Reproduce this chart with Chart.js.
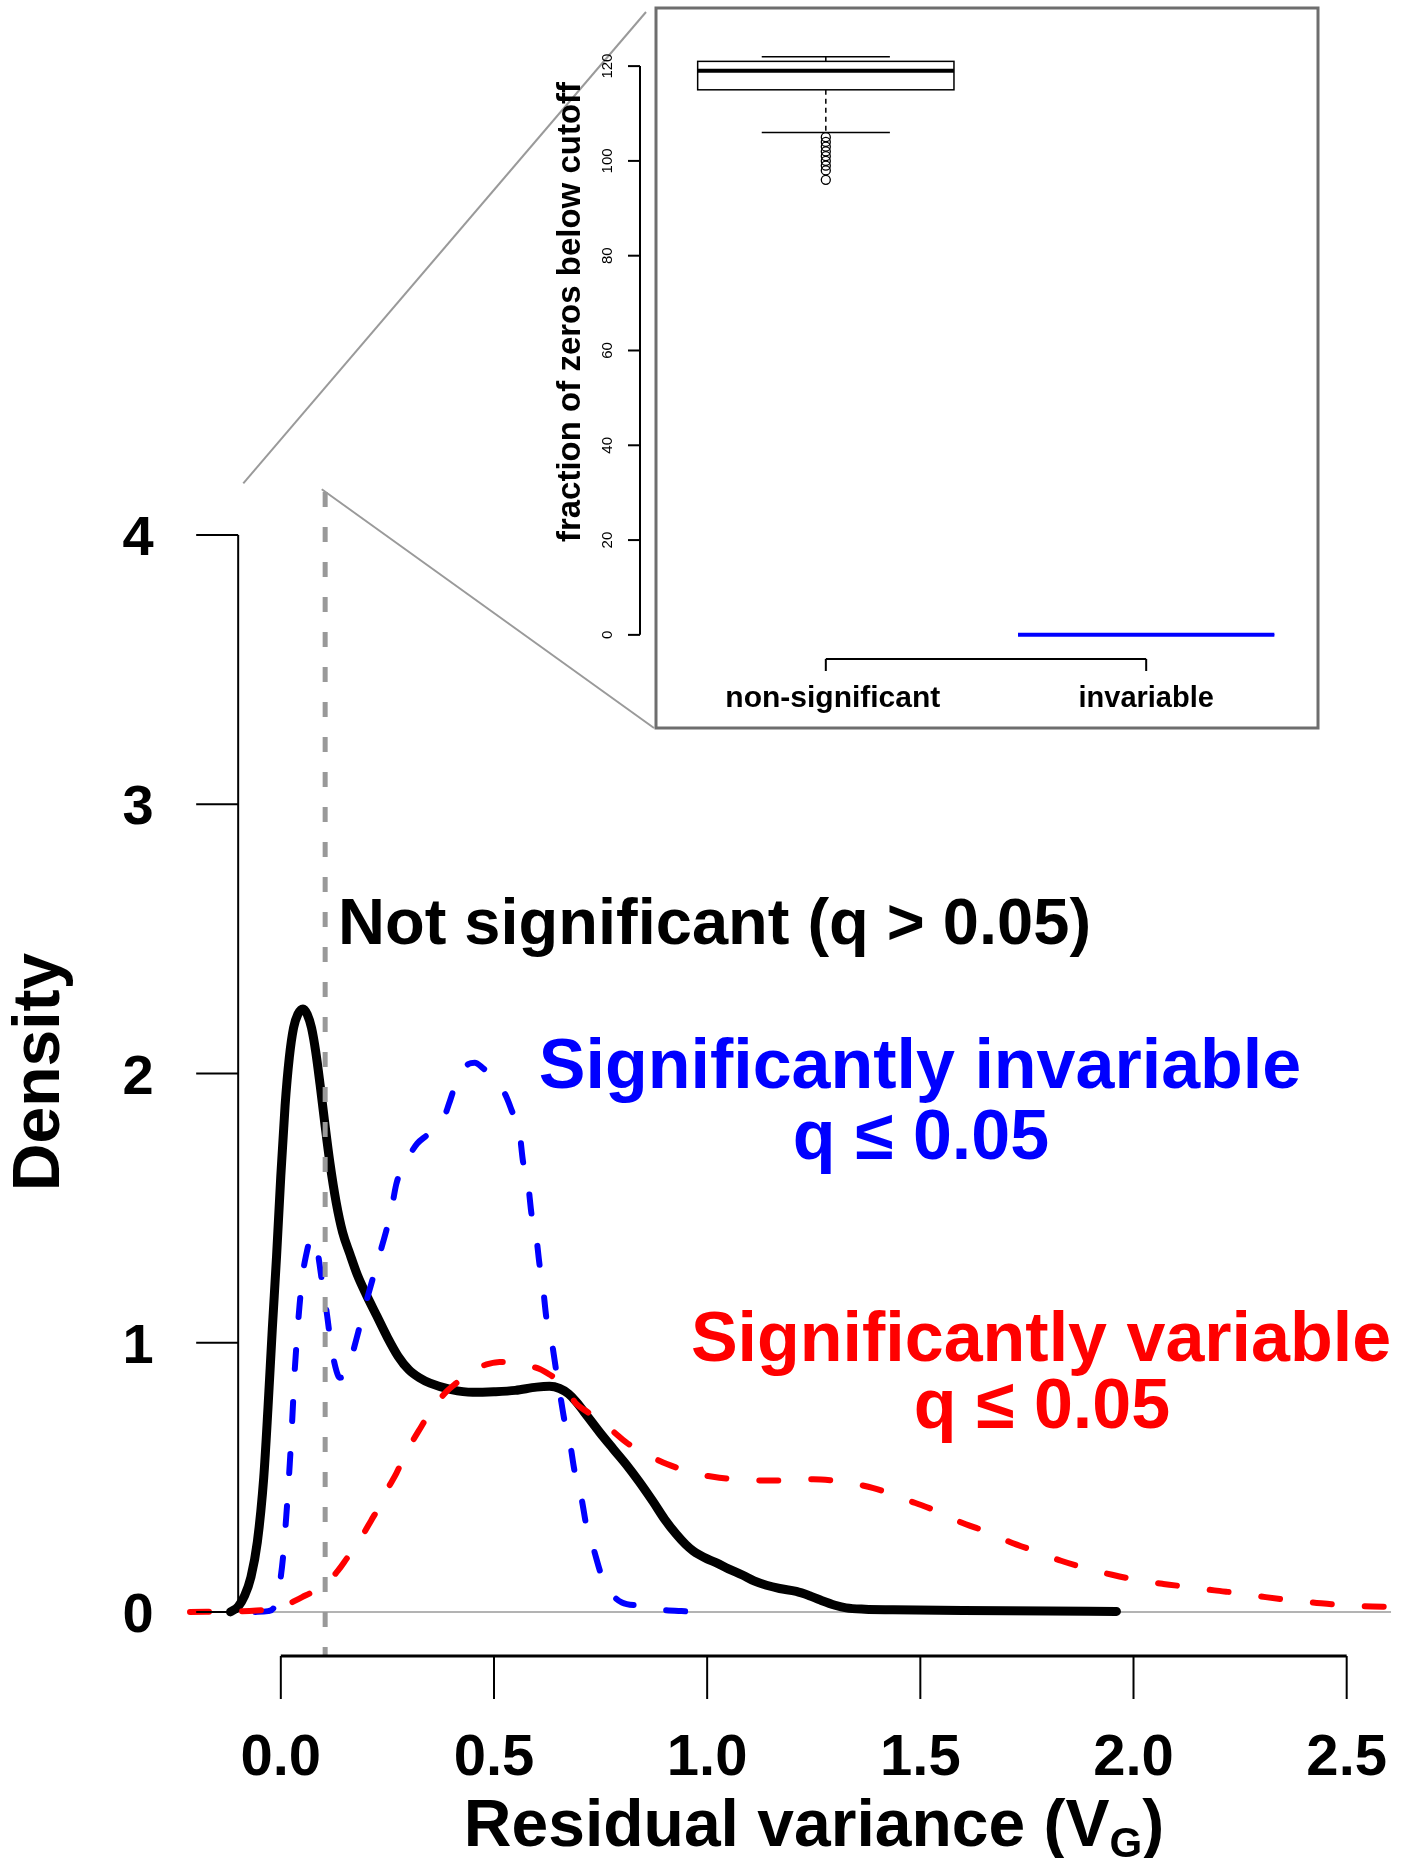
<!DOCTYPE html>
<html>
<head>
<meta charset="utf-8">
<script src="https://cdn.jsdelivr.net/npm/chart.js@4.4.1/dist/chart.umd.min.js"></script>
<style>
  html, body { margin: 0; padding: 0; background: #fff; }
  #wrap { position: relative; width: 1423px; height: 1858px; }
  #wrap canvas { position: absolute; left: 0; top: 0; }
</style>
</head>
<body>
<div id="wrap">
  <canvas id="main" width="1423" height="1858"></canvas>
  <canvas id="inset" width="1423" height="1858"></canvas>
</div>
<script>
const FONT = '"Liberation Sans", Arial, Helvetica, sans-serif';

// Density curves (x = residual variance, y = density)
const nsX = [-0.118, -0.10, -0.085, -0.07, -0.055, -0.04, -0.03, -0.02, -0.01, 0.0, 0.01, 0.02, 0.03, 0.04, 0.052,
  0.062, 0.072, 0.082, 0.092, 0.102, 0.115, 0.13, 0.145, 0.162, 0.18, 0.2, 0.225, 0.25, 0.275, 0.3, 0.325, 0.35,
  0.4, 0.45, 0.5, 0.55, 0.6, 0.63, 0.654, 0.675, 0.693, 0.72, 0.748, 0.78, 0.811, 0.84, 0.873, 0.9, 0.928, 0.95,
  0.967, 1.0, 1.022, 1.05, 1.084, 1.11, 1.139, 1.17, 1.209, 1.24, 1.264, 1.3, 1.326, 1.37, 1.436, 1.6, 1.8, 1.96];
const nsY = [0, 0.02, 0.06, 0.13, 0.26, 0.5, 0.76, 1.05, 1.32, 1.62, 1.88, 2.06, 2.17, 2.22, 2.24,
  2.22, 2.17, 2.08, 1.96, 1.83, 1.67, 1.52, 1.41, 1.33, 1.25, 1.18, 1.10, 1.02, 0.95, 0.90, 0.87, 0.85,
  0.826, 0.816, 0.818, 0.823, 0.835, 0.838, 0.83, 0.81, 0.78, 0.725, 0.667, 0.605, 0.546, 0.485, 0.41, 0.345, 0.288, 0.25,
  0.227, 0.197, 0.182, 0.16, 0.136, 0.115, 0.099, 0.087, 0.076, 0.06, 0.045, 0.025, 0.015, 0.01, 0.008, 0.005, 0.003, 0.002];

const invX = [-0.06, -0.03, -0.015, -0.005, 0.005, 0.013, 0.021, 0.027, 0.032, 0.038, 0.044, 0.052, 0.06, 0.068, 0.076,
  0.084, 0.091, 0.099, 0.107, 0.118, 0.128, 0.138, 0.15, 0.162, 0.175, 0.185, 0.2, 0.216, 0.232, 0.248, 0.26, 0.271,
  0.285, 0.303, 0.32, 0.342, 0.362, 0.381, 0.395, 0.412, 0.425, 0.44, 0.455, 0.474, 0.495, 0.513, 0.53, 0.541, 0.56,
  0.568, 0.58, 0.588, 0.599, 0.607, 0.615, 0.623, 0.635, 0.646, 0.654, 0.666, 0.678, 0.689, 0.705, 0.717, 0.732,
  0.752, 0.766, 0.779, 0.8, 0.842, 0.893, 0.94, 0.99];
const invY = [0, 0.003, 0.02, 0.08, 0.2, 0.36, 0.55, 0.72, 0.88, 1.02, 1.14, 1.26, 1.33, 1.38, 1.39,
  1.36, 1.29, 1.2, 1.12, 0.99, 0.91, 0.87, 0.88, 0.925, 1.0, 1.06, 1.15, 1.24, 1.33, 1.42, 1.50, 1.59,
  1.65, 1.70, 1.74, 1.77, 1.80, 1.83, 1.89, 1.97, 2.01, 2.035, 2.04, 2.02, 1.99, 1.96, 1.91, 1.865, 1.78,
  1.674, 1.59, 1.478, 1.395, 1.288, 1.205, 1.091, 1.008, 0.895, 0.819, 0.705, 0.63, 0.523, 0.424, 0.318, 0.243,
  0.136, 0.09, 0.061, 0.035, 0.023, 0.008, 0.003, 0.001];

const varX = [-0.213, -0.1, -0.057, -0.02, 0.0, 0.029, 0.05, 0.076, 0.095, 0.115, 0.135, 0.154, 0.175, 0.193, 0.212,
  0.232, 0.25, 0.271, 0.29, 0.31, 0.33, 0.35, 0.37, 0.389, 0.41, 0.428, 0.45, 0.467, 0.49, 0.513, 0.535, 0.552,
  0.58, 0.607, 0.63, 0.654, 0.675, 0.693, 0.72, 0.748, 0.78, 0.811, 0.85, 0.889, 0.93, 0.967, 1.01, 1.061, 1.11,
  1.155, 1.2, 1.249, 1.3, 1.342, 1.39, 1.428, 1.47, 1.514, 1.545, 1.592, 1.655, 1.71, 1.772, 1.83, 1.889, 1.95,
  2.007, 2.07, 2.132, 2.19, 2.253, 2.31, 2.374, 2.44, 2.499, 2.56, 2.624, 2.66];
const varY = [0, 0.002, 0.005, 0.01, 0.015, 0.038, 0.055, 0.076, 0.097, 0.12, 0.155, 0.197, 0.245, 0.288, 0.34,
  0.394, 0.455, 0.515, 0.578, 0.637, 0.69, 0.743, 0.785, 0.819, 0.848, 0.872, 0.893, 0.91, 0.922, 0.928, 0.928, 0.925,
  0.915, 0.902, 0.882, 0.856, 0.815, 0.773, 0.742, 0.712, 0.67, 0.629, 0.592, 0.561, 0.535, 0.515, 0.503, 0.493, 0.489,
  0.488, 0.49, 0.493, 0.487, 0.477, 0.46, 0.44, 0.415, 0.39, 0.37, 0.335, 0.298, 0.26, 0.224, 0.19, 0.162, 0.138,
  0.119, 0.104, 0.092, 0.08, 0.069, 0.055, 0.042, 0.032, 0.024, 0.02, 0.018, 0.016];

const cutoff = 0.104;
const xTicks = [0, 0.5, 1, 1.5, 2, 2.5];
const xTickLabels = ['0.0', '0.5', '1.0', '1.5', '2.0', '2.5'];
const yTicks = [0, 1, 2, 3, 4];
const yTickLabels = ['0', '1', '2', '3', '4'];

// Inset boxplot
const boxLabels = ['non-significant', 'invariable'];
const boxLow = [106, 0];
const boxQ1 = [115, 0];
const boxMed = [119, 0];
const boxQ3 = [121, 0];
const boxHigh = [122, 0];
const boxColors = ['#000000', '#0000ff'];
const outliers = [105, 104, 103, 102, 101, 100, 99, 98, 96];
const insetTicks = [0, 20, 40, 60, 80, 100, 120];

function pts(xs, ys) {
    return xs.map((x, i) => ({ x: x, y: ys[i] }));
}

function line(ctx, x1, y1, x2, y2) {
    ctx.beginPath();
    ctx.moveTo(x1, y1);
    ctx.lineTo(x2, y2);
    ctx.stroke();
}

const INSET_BOX = { left: 656, top: 8, right: 1318, bottom: 728 };

const mainDecor = {
    id: 'mainDecor',
    beforeDatasetsDraw(chart) {
        const { ctx } = chart;
        const x = chart.scales.x, y = chart.scales.y;
        ctx.save();
        ctx.strokeStyle = '#b3b3b3';
        ctx.lineWidth = 2;
        line(ctx, x.getPixelForValue(-0.213), y.getPixelForValue(0), x.getPixelForValue(2.604), y.getPixelForValue(0));
        ctx.restore();
    },
    afterDatasetsDraw(chart) {
        const { ctx, chartArea } = chart;
        const x = chart.scales.x, y = chart.scales.y;
        ctx.save();

        // cutoff line
        ctx.strokeStyle = '#999999';
        ctx.lineWidth = 5;
        ctx.setLineDash([15, 20]);
        line(ctx, x.getPixelForValue(cutoff), chartArea.top, x.getPixelForValue(cutoff), chartArea.bottom);
        ctx.setLineDash([]);

        // zoom connectors to the inset
        ctx.strokeStyle = '#9a9a9a';
        ctx.lineWidth = 2;
        line(ctx, x.getPixelForValue(-0.088), y.getPixelForValue(4.192), INSET_BOX.left - 10, INSET_BOX.top + 4);
        line(ctx, x.getPixelForValue(0.096), y.getPixelForValue(4.17), INSET_BOX.left - 2, INSET_BOX.bottom);

        // y axis (drawn at x = -0.1)
        ctx.strokeStyle = '#000';
        ctx.lineWidth = 2;
        const ax = x.getPixelForValue(-0.1);
        line(ctx, ax, y.getPixelForValue(0), ax, y.getPixelForValue(4));
        ctx.fillStyle = '#000';
        ctx.font = 'bold 56px ' + FONT;
        ctx.textAlign = 'center';
        ctx.textBaseline = 'alphabetic';
        yTicks.forEach((v, i) => {
            const py = y.getPixelForValue(v);
            line(ctx, ax - 42, py, ax, py);
            ctx.fillText(yTickLabels[i], ax - 100, py + 20);
        });

        // x axis at bottom of plot region
        const by = chartArea.bottom + 1;
        ctx.lineWidth = 3;
        line(ctx, x.getPixelForValue(0), by, x.getPixelForValue(2.5), by);
        ctx.lineWidth = 2;
        ctx.font = 'bold 58px ' + FONT;
        xTicks.forEach((v, i) => {
            const px = x.getPixelForValue(v);
            line(ctx, px, by, px, by + 43);
            ctx.fillText(xTickLabels[i], px, by + 119);
        });

        // axis titles
        ctx.font = 'bold 66px ' + FONT;
        const t1 = 'Residual variance (V';
        const w1 = ctx.measureText(t1).width;
        ctx.font = 'bold 42px ' + FONT;
        const wG = ctx.measureText('G').width;
        ctx.font = 'bold 66px ' + FONT;
        const wP = ctx.measureText(')').width;
        let tx = 814 - (w1 + wG + wP) / 2;
        ctx.textAlign = 'left';
        ctx.fillText(t1, tx, 1846);
        ctx.font = 'bold 42px ' + FONT;
        ctx.fillText('G', tx + w1, 1857);
        ctx.font = 'bold 66px ' + FONT;
        ctx.fillText(')', tx + w1 + wG, 1846);

        ctx.save();
        ctx.translate(59, 1072);
        ctx.rotate(-Math.PI / 2);
        ctx.textAlign = 'center';
        ctx.fillText('Density', 0, 0);
        ctx.restore();

        // annotations
        ctx.textAlign = 'left';
        ctx.font = 'bold 65px ' + FONT;
        ctx.fillStyle = '#000';
        ctx.fillText('Not significant (q > 0.05)', 338, 944);

        ctx.textAlign = 'center';
        ctx.font = 'bold 70px ' + FONT;
        ctx.fillStyle = '#0000ff';
        ctx.fillText('Significantly invariable', 920, 1088);
        ctx.fillText('q \u2264 0.05', 921, 1159);
        ctx.fillStyle = '#ff0000';
        ctx.fillText('Significantly variable', 1041, 1361);
        ctx.fillText('q \u2264 0.05', 1042, 1428);

        ctx.restore();
    }
};

const insetDecor = {
    id: 'insetDecor',
    beforeDatasetsDraw(chart) {
        const { ctx, chartArea } = chart;
        const x = chart.scales.x, y = chart.scales.y;
        ctx.save();

        ctx.strokeStyle = '#6e6e6e';
        ctx.lineWidth = 3;
        ctx.strokeRect(INSET_BOX.left, INSET_BOX.top, INSET_BOX.right - INSET_BOX.left, INSET_BOX.bottom - INSET_BOX.top);

        // y axis
        ctx.strokeStyle = '#000';
        ctx.fillStyle = '#000';
        ctx.lineWidth = 2;
        const ax = chartArea.left;
        line(ctx, ax, y.getPixelForValue(0), ax, y.getPixelForValue(120));
        ctx.font = '15px ' + FONT;
        ctx.textAlign = 'center';
        ctx.textBaseline = 'alphabetic';
        insetTicks.forEach(v => {
            const py = y.getPixelForValue(v);
            line(ctx, ax - 12, py, ax, py);
            ctx.save();
            ctx.translate(ax - 28, py);
            ctx.rotate(-Math.PI / 2);
            ctx.fillText(String(v), 0, 0);
            ctx.restore();
        });
        ctx.save();
        ctx.translate(580, 312);
        ctx.rotate(-Math.PI / 2);
        ctx.font = 'bold 33px ' + FONT;
        ctx.fillText('fraction of zeros below cutoff', 0, 0);
        ctx.restore();

        // x axis
        const by = chartArea.bottom + 1;
        line(ctx, x.getPixelForValue(1), by, x.getPixelForValue(2), by);
        const labelFont = [30, 29];
        const labelShift = [7, 0];
        boxLabels.forEach((lab, i) => {
            const px = x.getPixelForValue(i + 1);
            line(ctx, px, by, px, by + 12);
            ctx.font = 'bold ' + labelFont[i] + 'px ' + FONT;
            ctx.fillText(lab, px + labelShift[i], 707);
        });

        // boxes
        boxLabels.forEach((lab, i) => {
            const c = i + 1;
            const l = x.getPixelForValue(c - 0.4), r = x.getPixelForValue(c + 0.4);
            const sl = x.getPixelForValue(c - 0.2), sr = x.getPixelForValue(c + 0.2);
            const cx = x.getPixelForValue(c);
            ctx.strokeStyle = boxColors[i];
            ctx.lineWidth = 1.5;
            ctx.setLineDash([5, 4]);
            line(ctx, cx, y.getPixelForValue(boxQ3[i]), cx, y.getPixelForValue(boxHigh[i]));
            line(ctx, cx, y.getPixelForValue(boxQ1[i]), cx, y.getPixelForValue(boxLow[i]));
            ctx.setLineDash([]);
            line(ctx, sl, y.getPixelForValue(boxHigh[i]), sr, y.getPixelForValue(boxHigh[i]));
            line(ctx, sl, y.getPixelForValue(boxLow[i]), sr, y.getPixelForValue(boxLow[i]));
            const top = y.getPixelForValue(boxQ3[i]), bot = y.getPixelForValue(boxQ1[i]);
            ctx.fillStyle = '#fff';
            ctx.fillRect(l, top, r - l, bot - top);
            ctx.strokeRect(l, top, r - l, bot - top);
            ctx.lineWidth = 4;
            line(ctx, l, y.getPixelForValue(boxMed[i]), r, y.getPixelForValue(boxMed[i]));
        });
        ctx.restore();
    }
};

new Chart(document.getElementById('main'), {
    type: 'line',
    data: {
        datasets: [{
            label: 'Significantly variable',
            data: pts(varX, varY),
            borderColor: '#ff0000',
            borderWidth: 6,
            borderDash: [19, 33],
            borderCapStyle: 'round',
            clip: false,
            order: 1
        }, {
            label: 'Significantly invariable',
            data: pts(invX, invY),
            borderColor: '#0000ff',
            borderWidth: 6,
            borderDash: [19, 33],
            borderCapStyle: 'round',
            clip: false,
            order: 2
        }, {
            label: 'Not significant',
            data: pts(nsX, nsY),
            borderColor: '#000000',
            borderWidth: 9,
            borderCapStyle: 'round',
            clip: false,
            order: 3
        }]
    },
    options: {
        responsive: false,
        animation: false,
        devicePixelRatio: 1,
        layout: { padding: { left: 190, right: 0, top: 492, bottom: 203 } },
        elements: {
            point: { radius: 0 },
            line: { cubicInterpolationMode: 'monotone', fill: false, borderJoinStyle: 'round' }
        },
        scales: {
            x: { type: 'linear', min: -0.213, max: 2.679, display: false },
            y: { type: 'linear', min: -0.16, max: 4.16, display: false }
        },
        plugins: { legend: { display: false }, tooltip: { enabled: false } }
    },
    plugins: [mainDecor]
});

new Chart(document.getElementById('inset'), {
    type: 'scatter',
    data: {
        datasets: [{
            label: 'outliers',
            data: outliers.map(v => ({ x: 1, y: v })),
            pointRadius: 4.5,
            pointBorderWidth: 1.3,
            pointBorderColor: '#000000',
            pointBackgroundColor: 'rgba(0,0,0,0)'
        }]
    },
    options: {
        responsive: false,
        animation: false,
        devicePixelRatio: 1,
        layout: { padding: { left: 640, right: 91, top: 33.5, bottom: 1200 } },
        scales: {
            x: { type: 'linear', min: 0.42, max: 2.58, display: false },
            y: { type: 'linear', min: -4.88, max: 126.88, display: false }
        },
        plugins: { legend: { display: false }, tooltip: { enabled: false } }
    },
    plugins: [insetDecor]
});
</script>
</body>
</html>
